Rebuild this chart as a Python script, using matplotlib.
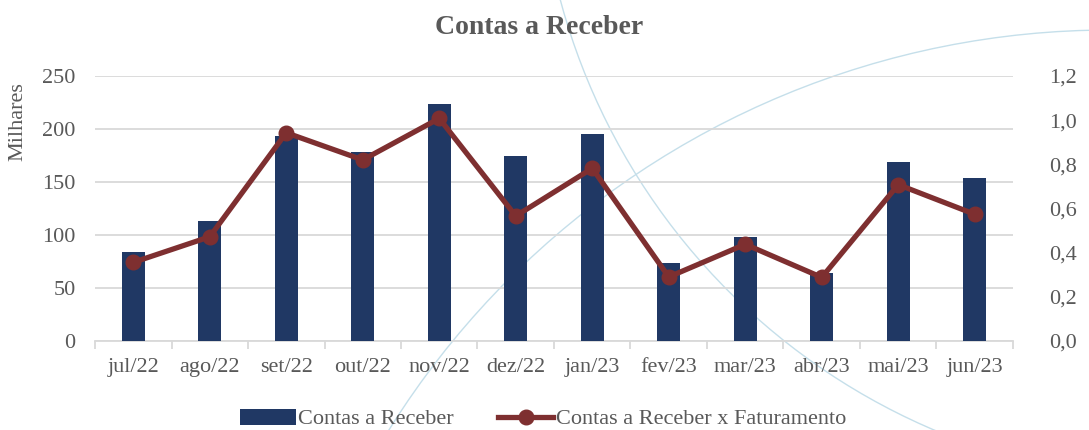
import matplotlib
matplotlib.use("Agg")
import matplotlib.pyplot as plt
import numpy as np
from matplotlib.patches import Circle, Rectangle
from matplotlib.lines import Line2D

months = ["jul/22", "ago/22", "set/22", "out/22", "nov/22", "dez/22",
          "jan/23", "fev/23", "mar/23", "abr/23", "mai/23", "jun/23"]
# Contas a Receber (milhares)
receber = [83.7, 113, 193.5, 178.6, 224, 174.8, 195, 73.6, 98.4, 64.5, 168.6, 153.8]
# Contas a Receber x Faturamento
ratio = [0.356, 0.472, 0.943, 0.82, 1.008, 0.566, 0.782, 0.29, 0.438, 0.288, 0.708, 0.574]
left_ticks = [0, 50, 100, 150, 200, 250]
right_ticks = [0.0, 0.2, 0.4, 0.6, 0.8, 1.0, 1.2]

NAVY = "#203864"
WINE = "#7E2F30"
GRAY = "#595959"
GRID = "#D9D9D9"
ARC = "#C5DFEA"
FS = 16

plt.rcParams["font.family"] = ["Liberation Serif", "DejaVu Serif"]

W, H = 1089, 430
fig = plt.figure(figsize=(W / 100, H / 100), dpi=100)

# --- decorative background arcs (pixel coords, y down) ---
bg = fig.add_axes([0, 0, 1, 1], zorder=-1)
bg.set_xlim(0, W)
bg.set_ylim(H, 0)
bg.axis("off")
bg.add_patch(Circle((1189, -169), 651, fill=False, edgecolor=ARC, linewidth=1.0))
bg.add_patch(Circle((1110, 880), 850, fill=False, edgecolor=ARC, linewidth=1.0))

ax = fig.add_axes([95 / W, 1 - 341 / H, (1013 - 95) / W, (341 - 76) / H])
ax.patch.set_alpha(0)
x = np.arange(len(months))

ax.bar(x, receber, width=0.30, color=NAVY, zorder=3)
ax.set_ylim(0, 250)
ax.set_xlim(-0.5, len(months) - 0.5)
ax.set_yticks(left_ticks)
ax.set_yticklabels([str(v) for v in left_ticks])
ax.yaxis.grid(True, color=GRID, linewidth=1.3, zorder=0)
ax.set_axisbelow(True)
ax.set_xticks(x)
ax.set_xticklabels(months)
ax.set_xticks(np.arange(-0.5, len(months)), minor=True)
ax.tick_params(axis="x", which="major", length=0, pad=12, labelsize=FS, labelcolor=GRAY)
ax.tick_params(axis="x", which="minor", length=6, color=GRID, width=1.3)
ax.tick_params(axis="y", length=0, pad=14, labelsize=FS, labelcolor=GRAY)
for s in ["top", "right", "left"]:
    ax.spines[s].set_visible(False)
ax.spines["bottom"].set_color(GRID)
ax.spines["bottom"].set_linewidth(1.3)

fig.text(18 / W, 1 - 122 / H, "Milhares", rotation=90, ha="center", va="center",
         fontsize=FS, color=GRAY)

ax2 = ax.twinx()
ax2.plot(x, ratio, color=WINE, linewidth=3.8, marker="o", markersize=10.5,
         zorder=4, solid_capstyle="round")
ax2.set_ylim(0, 1.2)
ax2.set_yticks(right_ticks)
ax2.set_yticklabels([f"{v:.1f}".replace(".", ",") for v in right_ticks])
ax2.tick_params(axis="y", length=0, pad=26, labelsize=FS, labelcolor=GRAY)
for s in ax2.spines.values():
    s.set_visible(False)

fig.text(539 / W, 1 - 28 / H, "Contas a Receber", ha="center", va="center",
         fontsize=20, fontweight="bold", color=GRAY)

handles = [
    Rectangle((0, 0), 1, 1, facecolor=NAVY),
    Line2D([0], [0], color=WINE, linewidth=3.8, marker="o", markersize=10.5),
]
fig.legend(handles, ["Contas a Receber", "Contas a Receber x Faturamento"],
           loc="center", bbox_to_anchor=(543 / W, 1 - 419 / H), ncol=2, frameon=False,
           fontsize=FS, labelcolor=GRAY, handlelength=2.5, handletextpad=0.1,
           columnspacing=2.0, handleheight=0.75)

fig.savefig("out.png", dpi=100)
